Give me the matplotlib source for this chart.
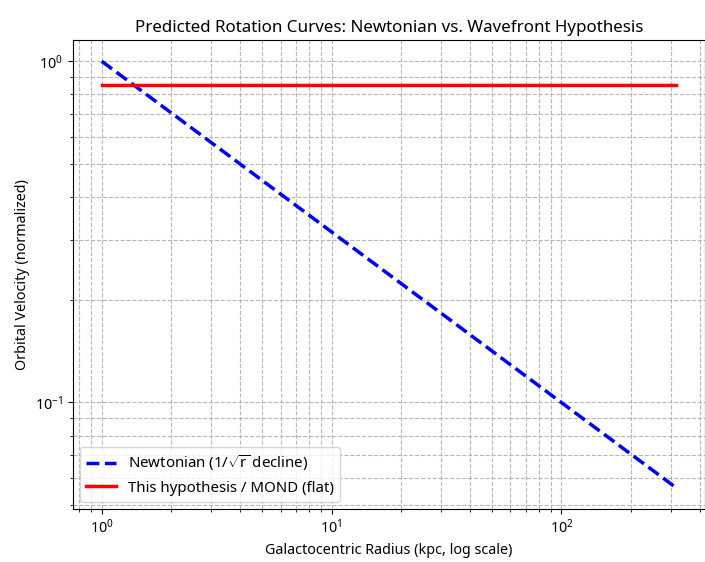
import matplotlib
matplotlib.use("Agg")
import matplotlib.pyplot as plt

plt.rcParams['font.family'] = ['Noto Sans', 'DejaVu Sans']
plt.rcParams['mathtext.fontset'] = 'custom'
plt.rcParams['mathtext.rm'] = 'Noto Sans'
plt.rcParams['mathtext.it'] = 'Noto Sans:italic'

# radius (kpc) and normalised velocities
radius = [1.0, 316.0]
v_newton = [1.0, 0.0562]
v_flat = [0.85, 0.85]

fig = plt.figure(figsize=(7.05, 5.62), dpi=100)
ax = fig.add_axes([0.1035, 0.094, 0.8965, 0.835])

ax.plot(radius, v_newton, '--', color='blue', lw=2.5,
        label=r'Newtonian (1/$\sqrt{\mathrm{r}}$ decline)')
ax.plot(radius, v_flat, '-', color='red', lw=2.5,
        label='This hypothesis / MOND (flat)')

ax.set_xscale('log')
ax.set_yscale('log')
ax.grid(True, which='both', ls='--', color='#b0b0b0', alpha=0.9)

ax.set_title('Predicted Rotation Curves: Newtonian vs. Wavefront Hypothesis', fontsize=12.2)
ax.set_xlabel('Galactocentric Radius (kpc, log scale)', fontsize=10.3)
ax.set_ylabel('Orbital Velocity (normalized)', fontsize=10.3)
ax.tick_params(labelsize=10.3)
ax.legend(loc='lower left', fontsize=10.8)

fig.savefig('out.png', dpi=100)
